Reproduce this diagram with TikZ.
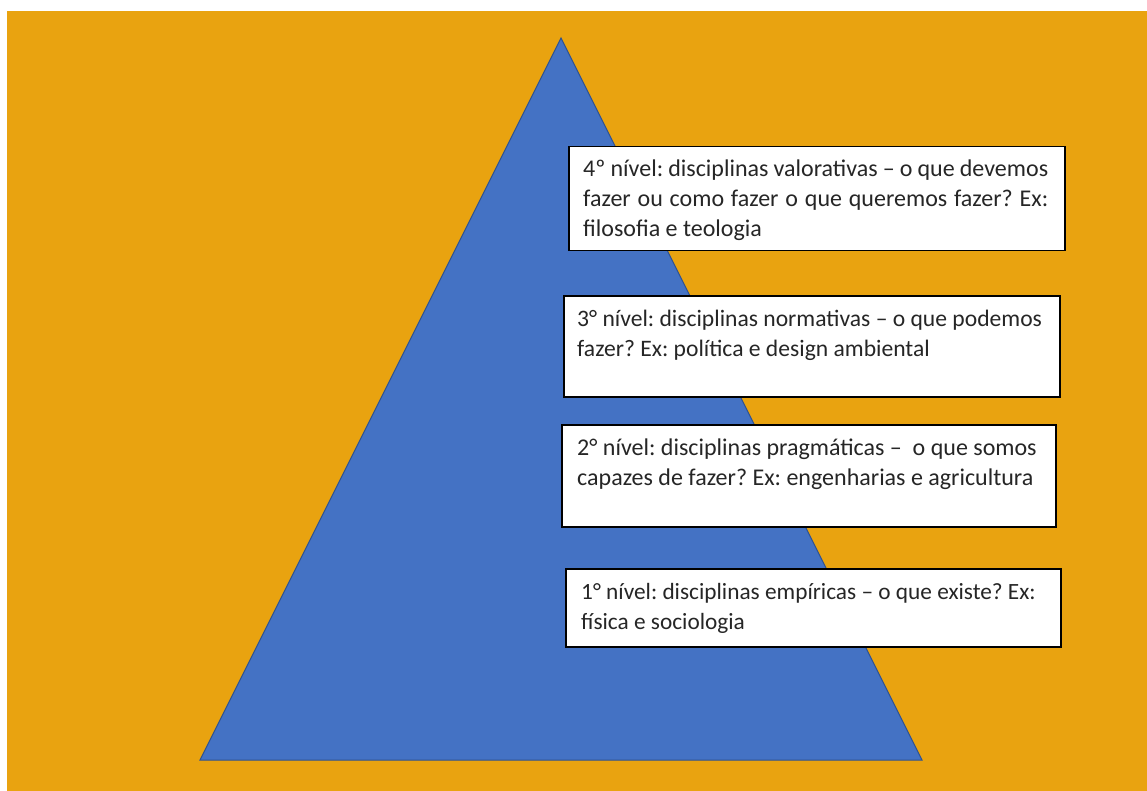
\documentclass[tikz,border=0pt]{standalone}
\usepackage{fontspec}
\setmainfont{Carlito}
\usepackage{tikz}
\usetikzlibrary{calc}
\usetikzlibrary{positioning}
\definecolor{fundo}{RGB}{233,163,16}
\definecolor{piramide}{RGB}{68,114,196}
\definecolor{contorno}{RGB}{47,82,143}
\frenchspacing

\begin{document}
\begin{tikzpicture}[x=1pt, y=-1pt, line join=miter,
    nivel/.style={draw=black, line width=1.5pt, fill=white, anchor=north west, inner sep=0pt},
    texto/.style={anchor=north west, inner sep=0pt, align=left, text=black!85,
      font=\fontsize{24}{30}\selectfont}]
  \useasboundingbox (0,0) rectangle (1147,791);
  %--- Fundo
    \fill[fundo] (7, 11) rectangle (1147, 791) ;
  %--- Piramide
    \coordinate (topo) at (561, 38) ;
    \coordinate (baseE) at (200, 760) ;
    \coordinate (baseD) at (922, 760) ;
    \draw[contorno, fill=piramide, line width=1pt] (topo) -- (baseD) -- (baseE) -- cycle ;
  %--- 4o nivel
    \node[nivel, minimum width=496, minimum height=104] (n4) at (568, 146) {} ;
    \node[texto, text width=465, align=justify] (t4) at ($(n4.north west)+(15, 14)$)
      {4º nível: disciplinas valorativas – o que devemos\linebreak
       fazer ou como fazer o que queremos fazer? Ex:\linebreak
       filosofia e teologia} ;
  %--- 3o nivel
    \node[nivel, minimum width=496, minimum height=101] (n3) at (563, 295) {} ;
    \node[texto, font=\fontsize{23.6}{30}\selectfont] (t3) at ($(n3.north west)+(14, 15)$)
      {3° nível: disciplinas normativas – o que podemos\\
       fazer? Ex: política e design ambiental} ;
  %--- 2o nivel
    \node[nivel, minimum width=494, minimum height=102] (n2) at (561, 424) {} ;
    \node[texto] (t2) at ($(n2.north west)+(16, 15)$)
      {2° nível: disciplinas pragmáticas –\ \ o que somos\\
       capazes de fazer? Ex: engenharias e agricultura} ;
  %--- 1o nivel
    \node[nivel, minimum width=495, minimum height=78] (n1) at (565, 568) {} ;
    \node[texto, font=\fontsize{23.3}{30}\selectfont] (t1) at ($(n1.north west)+(16, 15)$)
      {1° nível: disciplinas empíricas – o que existe? Ex:\\
       física e sociologia} ;
\end{tikzpicture}
\end{document}
